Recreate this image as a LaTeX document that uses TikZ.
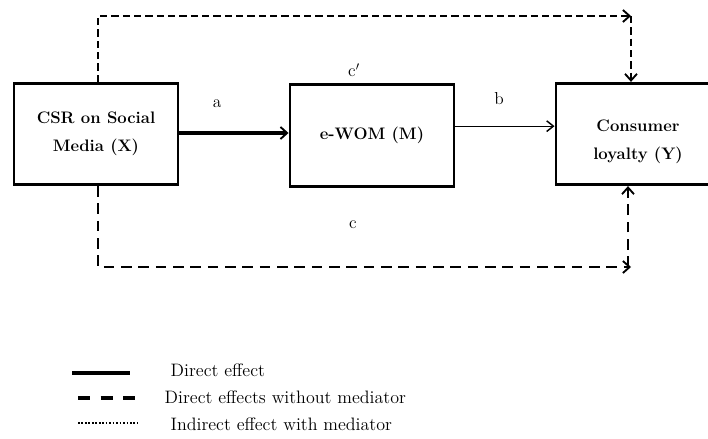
\documentclass[tikz,border=0pt]{standalone}
\usepackage{tikz}
\usetikzlibrary{arrows.meta,positioning,calc}

\begin{document}
\begin{tikzpicture}[x=0.75pt,y=-0.75pt,
  varbox/.style={draw,line width=2.2pt,minimum width=123pt,minimum height=76pt,
        align=center,font=\fontsize{12.5}{21}\selectfont\bfseries},
  boxtext/.style={align=center,font=\fontsize{12.5}{21}\selectfont\bfseries},
  pathlbl/.style={font=\fontsize{13}{15}\selectfont},
  legtext/.style={anchor=west,font=\fontsize{13.5}{15}\selectfont},
  shortdash/.style={line width=2pt,dash pattern=on 5.5pt off 3pt},
  longdash/.style={line width=2pt,dash pattern=on 8pt off 5pt},
  barb/.style={-{Straight Barb[length=5pt,width=9pt,line width=1.4pt]}}]
  \useasboundingbox (0,0) rectangle (708,439);

  % variables
  \node[varbox] (X) at (96,134) {CSR on Social\\Media (X)};
  \node[varbox] (M) at (372,135.5) {e-WOM (M)};
  \node[varbox] (Y) at (638,134) {};
  \node[boxtext] (Ytxt) at (638,142) {Consumer\\loyalty (Y)};

  % corners of the outer paths
  \coordinate (tr) at (631,16);
  \coordinate (br) at (631,267);

  % a and b
  \draw[barb,line width=2.6pt] (X.east |- 0,133) -- (M.west |- 0,133);
  \draw[-{Straight Barb[length=5pt,width=8pt,line width=1.1pt]},line width=1pt]
        ([yshift=7pt]M.east) -- ([yshift=7pt]M.east -| Y.west);

  % c' (top)
  \draw[shortdash,barb] (X.north -| 98,0) |- (tr);
  \draw[shortdash,barb] (tr) -- (tr |- Y.north);

  % c (bottom)
  \draw[longdash,barb] (X.south -| 98,0) |- (br);
  \draw[longdash,barb] (br -| 628,0) -- (Y.south -| 628,0);

  % path labels
  \node[pathlbl] (la) at (217,104) {a};
  \node[pathlbl] (lb) at (499,99) {b};
  \node[pathlbl] (lc) at (353,225) {c};
  \node[pathlbl] (lcp) at (354,70) {c$'$};

  % legend
  \draw[line width=2.6pt] (72,373) -- (130,373);
  \draw[line width=2.6pt,dash pattern=on 9pt off 8pt] (78,398) -- (137,398);
  \draw[line width=1.4pt,dash pattern=on 1.3pt off 1.3pt] (78,423) -- (137,423);
  \node[legtext] (l1) at (166,370) {Direct effect};
  \node[legtext] (l2) at (160,397) {Direct effects without mediator};
  \node[legtext] (l3) at (166,424) {Indirect effect with mediator};
\end{tikzpicture}
\end{document}
